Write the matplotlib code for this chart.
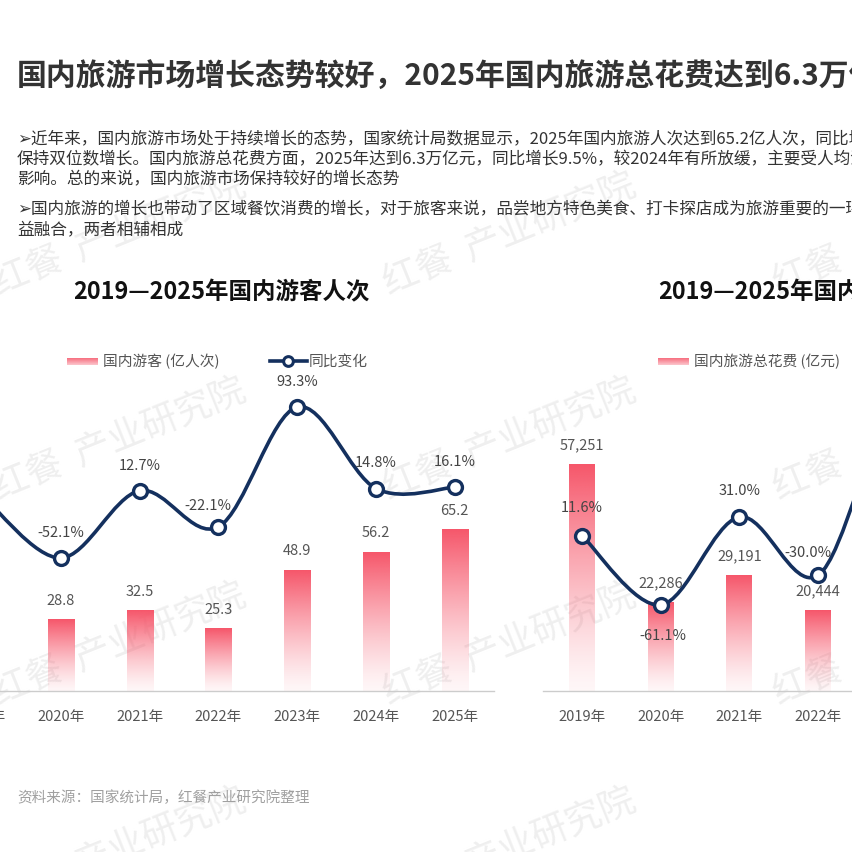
import matplotlib
matplotlib.use("Agg")
import matplotlib.pyplot as plt
import numpy as np
from matplotlib.path import Path
from matplotlib.patches import PathPatch
from matplotlib.colors import to_rgb

plt.rcParams["font.family"] = ["Noto Sans CJK SC", "DejaVu Sans"]

# ---- data ----
years = ["2019年", "2020年", "2021年", "2022年", "2023年", "2024年", "2025年"]

tourists = [60.1, 28.8, 32.5, 25.3, 48.9, 56.2, 65.2]          # 亿人次
tourists_yoy = [8.4, -52.1, 12.7, -22.1, 93.3, 14.8, 16.1]      # %

spending = [57251, 22286, 29191, 20444, 49133, 57543, 63010]    # 亿元
spending_yoy = [11.6, -61.1, 31.0, -30.0, 140.3, 17.1, 9.5]     # %

title = "国内旅游市场增长态势较好，2025年国内旅游总花费达到6.3万亿元"
bullet_lines = [
    "➢近年来，国内旅游市场处于持续增长的态势，国家统计局数据显示，2025年国内旅游人次达到65.2亿人次，同比增长16.1%，",
    "保持双位数增长。国内旅游总花费方面，2025年达到6.3万亿元，同比增长9.5%，较2024年有所放缓，主要受人均消费",
    "影响。总的来说，国内旅游市场保持较好的增长态势",
    "➢国内旅游的增长也带动了区域餐饮消费的增长，对于旅客来说，品尝地方特色美食、打卡探店成为旅游重要的一环，文旅",
    "益融合，两者相辅相成",
]
source = "资料来源：国家统计局，红餐产业研究院整理"

W = H = 853
BAR_TOP = "#f6566a"
LINE_C = "#14305e"
LABEL_C = "#555555"

fig = plt.figure(figsize=(W / 100, H / 100), dpi=100)
fig.patch.set_facecolor("white")


def fx(x):
    return x / W


def fy(y):
    return 1 - y / H


# ---- watermarks (behind everything) ----
for cx in (120, 510, 900):
    for cy in (235, 440, 645, 850):
        fig.text(fx(cx), fy(cy), "红餐  产业研究院", fontsize=26,
                 color="#efefef", rotation=22, ha="center", va="center",
                 rotation_mode="anchor", zorder=-5)

# ---- texts ----
fig.text(fx(17), fy(77), title, fontsize=21.5, fontweight="bold", color="#333333",
         ha="left", va="center")
for y, line in zip([140, 160, 180, 210, 230], bullet_lines):
    fig.text(fx(17), fy(y), line, fontsize=12, color="#333333", ha="left", va="center")
fig.text(fx(17), fy(798), source, fontsize=10.5, color="#a0a0a0", ha="left", va="center")


def smooth_path(xs, ys):
    pts = np.column_stack([xs, ys]).astype(float)
    n = len(pts)
    verts = [pts[0]]
    codes = [Path.MOVETO]
    for i in range(n - 1):
        p0 = pts[i - 1] if i > 0 else pts[i]
        p1, p2 = pts[i], pts[i + 1]
        p3 = pts[i + 2] if i + 2 < n else pts[i + 1]
        c1 = p1 + (p2 - p0) / 6
        c2 = p2 - (p3 - p1) / 6
        verts += [c1, c2, p2]
        codes += [Path.CURVE4] * 3
    return Path(verts, codes)


def gradient_bar(ax, x, h, width):
    rgb = np.array(to_rgb(BAR_TOP))
    n = 256
    t = np.linspace(0, 1, n)[:, None]  # 0 bottom -> 1 top
    img = np.zeros((n, 1, 4))
    img[..., :3] = rgb
    img[..., 3] = 0.05 + 0.95 * t ** 1.3
    ax.imshow(img, extent=(x - width / 2, x + width / 2, 0, h), origin="lower",
              aspect="auto", interpolation="bilinear", zorder=2)


def draw_chart(left_px, step_px, values, yoy, bar_scale, yoy_zero_px, yoy_scale,
               bar_fmt, bar_off, yoy_off, chart_title, title_x, legend_x, legend_label):
    n = len(values)
    base = 692
    top = 330
    width_px = n * step_px
    ax = fig.add_axes([fx(left_px), fy(base), width_px / W, (base - top) / H])
    ax.set_facecolor("none")
    for i, v in enumerate(values):
        gradient_bar(ax, i, v, 0.33)
    ax.set_xlim(-0.5, n - 0.5)
    ax.set_ylim(0, (base - top) / bar_scale)
    for s in ("top", "right", "left"):
        ax.spines[s].set_visible(False)
    ax.spines["bottom"].set_color("#cccccc")
    ax.spines["bottom"].set_linewidth(1)
    ax.set_yticks([])
    ax.set_xticks(range(n))
    ax.set_xticklabels(years, fontsize=10.5, color=LABEL_C)
    ax.tick_params(axis="x", length=0, pad=13)
    for i, v in enumerate(values):
        ax.annotate(bar_fmt(v), (i, v), xytext=(0, bar_off * 0.72), textcoords="offset points",
                    ha="center", va="center", fontsize=10.5, color=LABEL_C, zorder=5,
                    annotation_clip=False)

    ax2 = ax.twinx()
    ax2.set_ylim(-yoy_zero_px / yoy_scale, (base - top - yoy_zero_px) / yoy_scale)
    ax2.set_axis_off()
    ax2.add_patch(PathPatch(smooth_path(range(n), yoy), facecolor="none",
                            edgecolor=LINE_C, linewidth=2.6, zorder=3, capstyle="round"))
    ax2.plot(range(n), yoy, linestyle="none", marker="o", markersize=10,
             markerfacecolor="white", markeredgecolor=LINE_C, markeredgewidth=2.4, zorder=4)
    for i, v in enumerate(yoy):
        dx, dy = yoy_off[i]
        ax2.annotate(f"{v:.1f}%", (i, v), xytext=(dx * 0.72, dy * 0.72),
                     textcoords="offset points", ha="center", va="center",
                     fontsize=10.5, color="#444444", zorder=6, annotation_clip=False)

    fig.text(fx(title_x), fy(292), chart_title, fontsize=16.9, fontweight="bold",
             color="#111111", ha="left", va="center")

    # legend drawn by hand
    lax = fig.add_axes([0, 0, 1, 1])
    lax.set_axis_off()
    lax.patch.set_alpha(0)
    ly = 362
    rgb = np.array(to_rgb(BAR_TOP))
    img = np.zeros((16, 1, 4))
    img[..., :3] = rgb
    img[..., 3] = np.linspace(0.85, 0.35, 16)[:, None]
    lax.imshow(img, extent=(legend_x, legend_x + 31, ly + 3.5, ly - 3.5),
               aspect="auto", interpolation="bilinear")
    lax.set_xlim(0, W)
    lax.set_ylim(H, 0)
    lax.text(legend_x + 36, ly, legend_label, fontsize=10.6, color=LABEL_C, va="center", ha="left")
    lx = legend_x + 203
    lax.plot([lx, lx + 37], [ly, ly], color=LINE_C, linewidth=2.6)
    lax.plot([lx + 18], [ly], marker="o", markersize=7, markerfacecolor="white",
             markeredgecolor=LINE_C, markeredgewidth=2.2)
    lax.text(lx + 39, ly, "同比变化", fontsize=10.6, color=LABEL_C, va="center", ha="left")


draw_chart(
    left_px=-57.4, step_px=78.8, values=tourists, yoy=tourists_yoy,
    bar_scale=2.47, yoy_zero_px=187.1, yoy_scale=1.0385,
    bar_fmt=lambda v: f"{v:.1f}",
    bar_off=20,
    yoy_off=[(0, 26), (0, 26), (0, 26), (-11, 22), (0, 26), (0, 27), (0, 26)],
    chart_title="2019—2025年国内游客人次", title_x=73,
    legend_x=67, legend_label="国内游客 (亿人次)",
)

draw_chart(
    left_px=542.6, step_px=78.7, values=spending, yoy=spending_yoy,
    bar_scale=3.96 / 1000, yoy_zero_px=144.4, yoy_scale=0.9555,
    bar_fmt=lambda v: f"{v:,.0f}",
    bar_off=20,
    yoy_off=[(0, 29), (2, -30), (0, 27), (-10, 23), (0, 26), (0, 26), (0, 26)],
    chart_title="2019—2025年国内旅游总花费", title_x=658,
    legend_x=658, legend_label="国内旅游总花费 (亿元)",
)

fig.savefig("out.png", dpi=100, facecolor="white")
